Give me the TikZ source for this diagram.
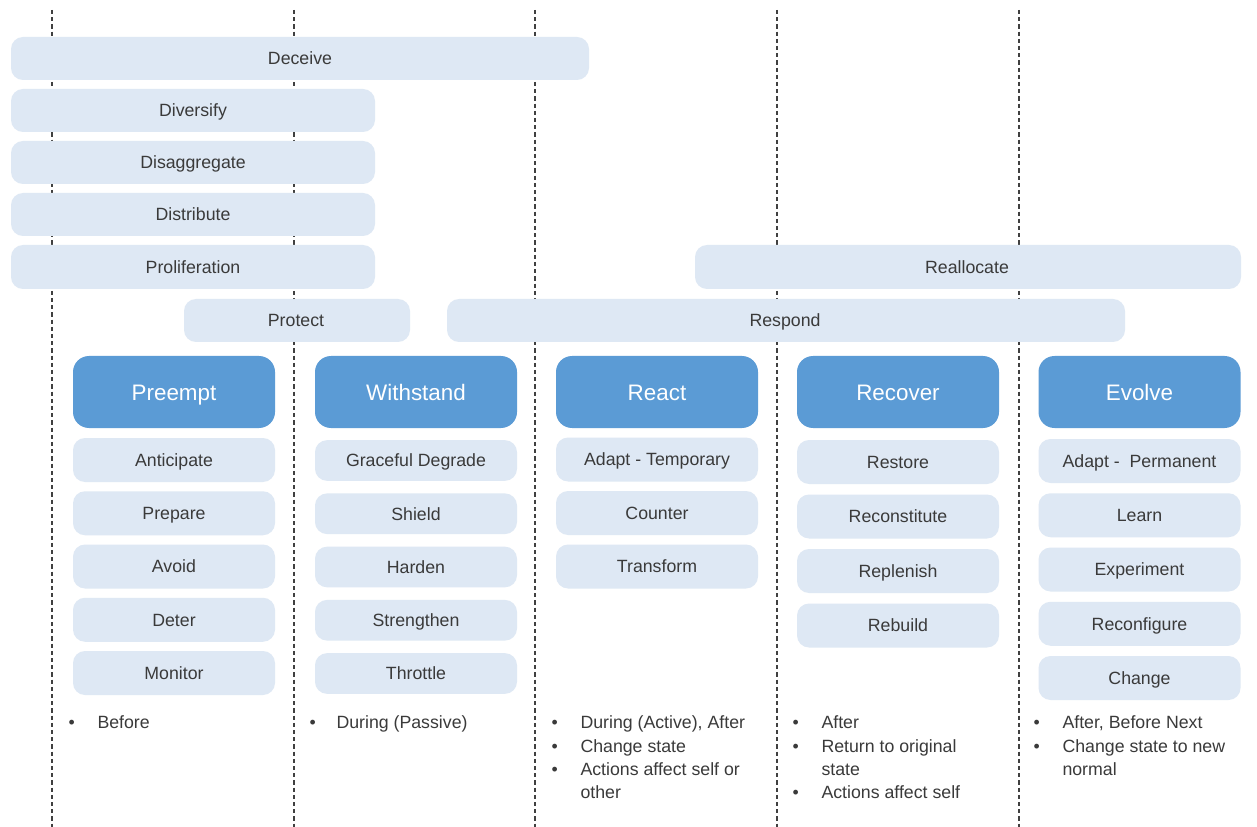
\documentclass[tikz,border=0pt]{standalone}
\usepackage{fontspec}
\setmainfont{Liberation Sans}
\definecolor{lightblue}{HTML}{DEE8F4}
\definecolor{darkblue}{HTML}{5B9BD5}
\definecolor{txtgray}{HTML}{3A3A3A}
\tikzset{every picture/.style={line width=0.75pt}}
\tikzset{
  band/.style={fill=lightblue, rounded corners=9pt},
  lbl/.style={text=txtgray, font=\fontsize{13.3}{16}\selectfont, inner sep=0pt, text height=9.5pt, text depth=0pt},
  phase/.style={fill=darkblue, rounded corners=12pt, minimum width=151.5pt, minimum height=54pt, text=white, font=\fontsize{16.8}{20}\selectfont, inner sep=0pt, text height=12pt, text depth=0pt},
  sub/.style={fill=lightblue, rounded corners=9pt, minimum width=151.5pt, minimum height=33pt, text=txtgray, font=\fontsize{13.3}{16}\selectfont, inner sep=0pt, text height=9.5pt, text depth=0pt},
  sep/.style={draw=black!75, line width=1pt, dash pattern=on 3.2pt off 2.2pt},
  bul/.style={text=txtgray, font=\fontsize{13.3}{16}\selectfont, anchor=base west, inner sep=0pt}
}
\begin{document}
\begin{tikzpicture}[x=0.75pt,y=0.75pt,yscale=-1,xscale=1]
	\path[fill=white] (0,0) rectangle (1257,827);
	\useasboundingbox (0,0) rectangle (1257,827);

	%Dashed separators
	\foreach \x [count=\i] in {52,294,535,777,1019}{
		\coordinate (top\i) at (\x,10);
		\coordinate (bot\i) at (\x,827);
		\draw[sep] (top\i) -- (bot\i);
	}

	%Bands across phases
	\path[band] (11,37) rectangle (589,80);
	\node[lbl] (deceive) at (300,58.5) {Deceive};
	\path[band] (11,89) rectangle (375,132);
	\node[lbl] (diversify) at (193,110.5) {Diversify};
	\path[band] (11,141) rectangle (375,184);
	\node[lbl] (disaggregate) at (193,162.5) {Disaggregate};
	\path[band] (11,193) rectangle (375,236);
	\node[lbl] (distribute) at (193,214.5) {Distribute};
	\path[band] (11,245) rectangle (375,289);
	\node[lbl] (proliferation) at (193,267) {Proliferation};
	\path[band] (695,245) rectangle (1241,289);
	\node[lbl] (reallocate) at (967,267) {Reallocate};
	\path[band] (184,299) rectangle (410,342);
	\node[lbl] (protect) at (296,320.5) {Protect};
	\path[band] (447,299) rectangle (1125,342);
	\node[lbl] (respond) at (785,320.5) {Respond};

	%Phase headers
	\node[phase] (preempt) at (174,392) {Preempt};
	\node[phase] (withstand) at (416,392) {Withstand};
	\node[phase] (react) at (657,392) {React};
	\node[phase] (recover) at (898,392) {Recover};
	\node[phase] (evolve) at (1139.5,392) {Evolve};

	%Sub boxes
	\foreach \t [count=\i] in {Anticipate,Prepare,Avoid,Deter,Monitor}
		\node[sub] (pre\i) at (174,460+53.25*\i-53.25) {\t};
	\foreach \t [count=\i] in {Graceful Degrade,Shield,Harden,Strengthen,Throttle}
		\node[sub, minimum height=30.5pt] (wit\i) at (416,460.5+53.25*\i-53.25) {\t};
	\foreach \t [count=\i] in {Adapt - Temporary,Counter,Transform}
		\node[sub] (rea\i) at (657,459.5+53.5*\i-53.5) {\t};
	\foreach \t [count=\i] in {Restore,Reconstitute,Replenish,Rebuild}
		\node[sub] (rec\i) at (898,462+54.5*\i-54.5) {\t};
	\foreach \t [count=\i] in {Adapt -\ \ Permanent,Learn,Experiment,Reconfigure,Change}
		\node[sub] (evo\i) at (1139.5,461+54.25*\i-54.25) {\t};

	%Bullet notes
	\node[bul] (pb1) at (68,728) {•};
	\node[bul] (pt1) at (97,728) {Before};
	\node[bul] (wb1) at (309,728) {•};
	\node[bul] (wt1) at (336,728) {During (Passive)};
	\node[bul] (ab1) at (551,728) {•};
	\node[bul] (at1) at (580,728) {During (Active), After};
	\node[bul] (ab2) at (551,752) {•};
	\node[bul] (at2) at (580,752) {Change state};
	\node[bul] (ab3) at (551,775) {•};
	\node[bul] (at3) at (580,775) {Actions affect self or};
	\node[bul] (at4) at (580,798) {other};
	\node[bul] (rb1) at (792,728) {•};
	\node[bul] (rt1) at (821,728) {After};
	\node[bul] (rb2) at (792,752) {•};
	\node[bul] (rt2) at (821,752) {Return to original};
	\node[bul] (rt3) at (821,775) {state};
	\node[bul] (rb3) at (792,798) {•};
	\node[bul] (rt4) at (821,798) {Actions affect self};
	\node[bul] (eb1) at (1033,728) {•};
	\node[bul] (et1) at (1062,728) {After, Before Next};
	\node[bul] (eb2) at (1033,752) {•};
	\node[bul] (et2) at (1062,752) {Change state to new};
	\node[bul] (et3) at (1062,775) {normal};

\end{tikzpicture}
\end{document}
